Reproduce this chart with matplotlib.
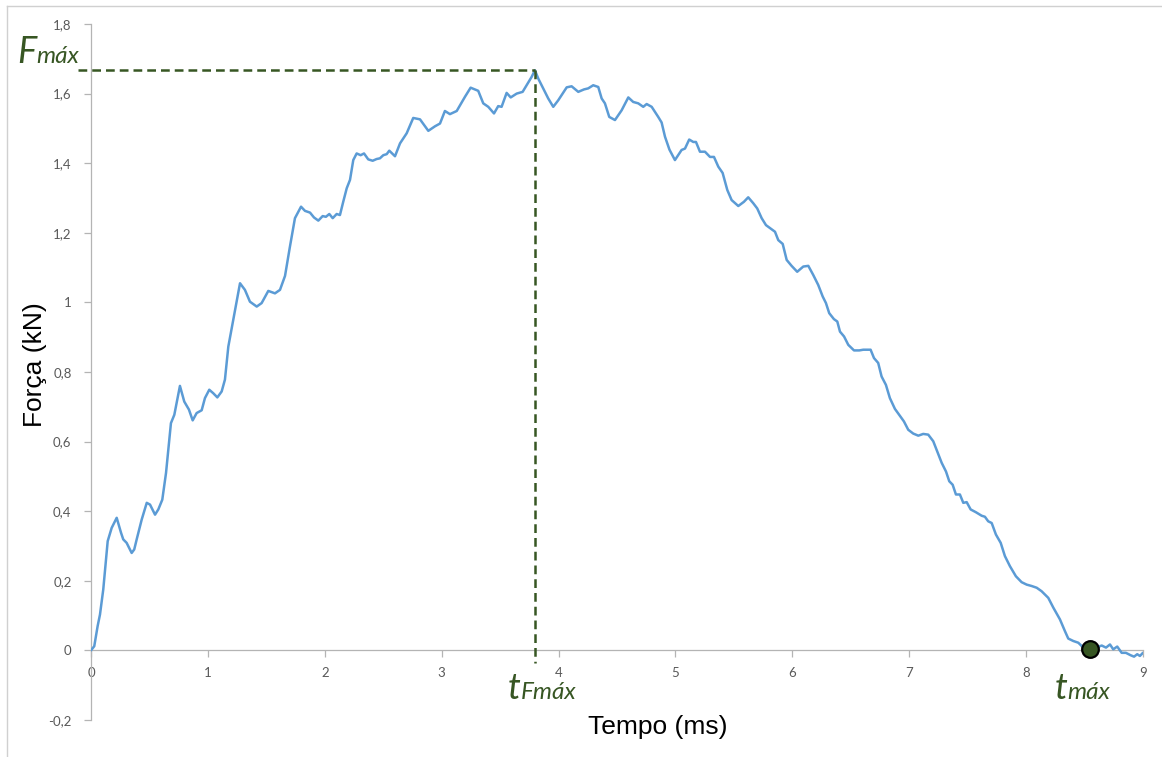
import matplotlib.pyplot as plt
from matplotlib.lines import Line2D
import numpy as np

# curva força x tempo
tempo = [0.000, 0.028, 0.057, 0.077, 0.105, 0.143, 0.177, 0.220, 0.257, 0.276,
         0.305, 0.348, 0.370, 0.391, 0.434, 0.477, 0.505, 0.548, 0.576, 0.610,
         0.642, 0.684, 0.713, 0.761, 0.798, 0.838, 0.870, 0.904, 0.947, 0.975,
         1.012, 1.046, 1.081, 1.118, 1.146, 1.175, 1.217, 1.275, 1.317, 1.360,
         1.418, 1.460, 1.517, 1.574, 1.617, 1.660, 1.702, 1.745, 1.797, 1.831,
         1.874, 1.908, 1.945, 1.982, 2.010, 2.039, 2.068, 2.102, 2.130, 2.158,
         2.188, 2.216, 2.244, 2.273, 2.307, 2.336, 2.372, 2.410, 2.444, 2.472,
         2.501, 2.530, 2.552, 2.601, 2.644, 2.701, 2.757, 2.815, 2.886, 2.943,
         2.986, 3.028, 3.071, 3.129, 3.200, 3.248, 3.313, 3.356, 3.399, 3.448,
         3.484, 3.513, 3.556, 3.591, 3.642, 3.693, 3.727, 3.770, 3.798, 3.827,
         3.869, 3.912, 3.955, 3.998, 4.070, 4.112, 4.169, 4.218, 4.254, 4.297,
         4.340, 4.369, 4.397, 4.434, 4.483, 4.540, 4.597, 4.639, 4.682, 4.725,
         4.754, 4.797, 4.853, 4.882, 4.911, 4.949, 4.996, 5.053, 5.082, 5.118,
         5.153, 5.176, 5.210, 5.253, 5.296, 5.330, 5.367, 5.404, 5.444, 5.481,
         5.538, 5.586, 5.623, 5.666, 5.700, 5.738, 5.775, 5.823, 5.852, 5.880,
         5.918, 5.952, 5.994, 6.042, 6.094, 6.137, 6.179, 6.222, 6.260, 6.288,
         6.316, 6.356, 6.385, 6.408, 6.443, 6.479, 6.528, 6.573, 6.607, 6.670,
         6.699, 6.735, 6.764, 6.801, 6.835, 6.878, 6.921, 6.955, 6.992, 7.035,
         7.078, 7.120, 7.163, 7.206, 7.240, 7.278, 7.315, 7.343, 7.372, 7.400,
         7.434, 7.463, 7.492, 7.526, 7.571, 7.620, 7.648, 7.676, 7.706, 7.742,
         7.783, 7.819, 7.862, 7.913, 7.962, 8.005, 8.048, 8.091, 8.133, 8.190,
         8.233, 8.290, 8.333, 8.361, 8.404, 8.447, 8.490, 8.547, 8.604, 8.647,
         8.684, 8.718, 8.746, 8.780, 8.818, 8.854, 8.895, 8.924, 8.951, 8.974,
         9.000]
forca = [0.000, 0.012, 0.070, 0.103, 0.175, 0.314, 0.352, 0.381, 0.338, 0.319,
         0.309, 0.280, 0.290, 0.319, 0.376, 0.424, 0.419, 0.390, 0.405, 0.433,
         0.510, 0.653, 0.677, 0.760, 0.715, 0.692, 0.661, 0.682, 0.690, 0.725,
         0.749, 0.739, 0.727, 0.744, 0.778, 0.873, 0.950, 1.055, 1.036, 1.002,
         0.988, 0.998, 1.033, 1.026, 1.036, 1.076, 1.160, 1.242, 1.275, 1.263,
         1.258, 1.244, 1.235, 1.248, 1.246, 1.254, 1.242, 1.254, 1.251, 1.289,
         1.328, 1.352, 1.409, 1.428, 1.423, 1.428, 1.411, 1.407, 1.412, 1.414,
         1.423, 1.426, 1.436, 1.420, 1.457, 1.486, 1.530, 1.526, 1.493, 1.506,
         1.514, 1.550, 1.541, 1.550, 1.591, 1.617, 1.608, 1.572, 1.562, 1.543,
         1.564, 1.562, 1.602, 1.589, 1.600, 1.605, 1.624, 1.648, 1.667, 1.643,
         1.615, 1.586, 1.562, 1.581, 1.618, 1.621, 1.605, 1.612, 1.615, 1.624,
         1.619, 1.586, 1.572, 1.533, 1.524, 1.552, 1.589, 1.576, 1.572, 1.562,
         1.570, 1.562, 1.533, 1.517, 1.476, 1.439, 1.409, 1.438, 1.442, 1.468,
         1.461, 1.461, 1.433, 1.433, 1.418, 1.418, 1.390, 1.372, 1.323, 1.294,
         1.277, 1.289, 1.302, 1.285, 1.270, 1.242, 1.222, 1.210, 1.203, 1.179,
         1.168, 1.122, 1.105, 1.088, 1.103, 1.105, 1.079, 1.050, 1.017, 0.998,
         0.969, 0.952, 0.945, 0.916, 0.902, 0.878, 0.862, 0.862, 0.864, 0.864,
         0.840, 0.826, 0.787, 0.763, 0.725, 0.694, 0.674, 0.658, 0.634, 0.623,
         0.617, 0.622, 0.620, 0.601, 0.572, 0.539, 0.514, 0.486, 0.476, 0.448,
         0.448, 0.424, 0.426, 0.405, 0.397, 0.387, 0.384, 0.371, 0.366, 0.333,
         0.309, 0.271, 0.242, 0.213, 0.196, 0.189, 0.185, 0.180, 0.170, 0.151,
         0.123, 0.089, 0.055, 0.034, 0.027, 0.022, 0.008, 0.003, 0.008, 0.014,
         0.008, 0.017, 0.003, 0.011, -0.007, -0.007, -0.014, -0.018, -0.011, -0.016,
         -0.007]
t_max = 8.547

x_ticks = [0, 1, 2, 3, 4, 5, 6, 7, 8, 9]
y_ticks = [-0.2, 0, 0.2, 0.4, 0.6, 0.8, 1.0, 1.2, 1.4, 1.6, 1.8]
y_labels = ['-0,2', '0', '0,2', '0,4', '0,6', '0,8', '1', '1,2', '1,4', '1,6', '1,8']

verde = '#375623'
azul = '#5b9bd5'
cinza = '#595959'
eixo = '#b4b4b4'

fig = plt.figure(figsize=(11.62, 7.57), dpi=100)
ax = fig.add_axes([0.0783, 0.0489, 0.9053, 0.9194])
ax.set_xlim(0, 9)
ax.set_ylim(-0.2, 1.8)

ax.plot(tempo, forca, color=azul, lw=1.8, zorder=3,
        solid_joinstyle='round', solid_capstyle='round')

# pico da curva
i_pico = int(np.argmax(forca))
t_pico, f_pico = tempo[i_pico], forca[i_pico]
ax.plot([-0.11, t_pico], [f_pico, f_pico], color=verde, lw=1.8, dashes=(3.5, 2.0),
        clip_on=False, zorder=4)
ax.plot([t_pico, t_pico], [f_pico, -0.035], color=verde, lw=1.8, dashes=(3.5, 2.0),
        clip_on=False, zorder=4)

# tempo máximo
ax.plot(t_max, np.interp(t_max, tempo, forca), 'o', ms=12, mfc=verde, mec='black',
        mew=1.6, zorder=5, clip_on=False)

# eixos
ax.spines['top'].set_visible(False)
ax.spines['right'].set_visible(False)
ax.spines['bottom'].set_position(('data', 0))
ax.spines['bottom'].set_color(eixo)
ax.spines['left'].set_color(eixo)
ax.spines['bottom'].set_linewidth(0.9)
ax.spines['left'].set_linewidth(0.9)
ax.set_xticks(x_ticks)
ax.set_yticks(y_ticks)
ax.set_yticklabels(y_labels)
ax.tick_params(axis='both', colors=eixo, labelcolor=cinza, labelsize=9.5,
               length=5, width=0.9, direction='out')
ax.tick_params(axis='x', pad=7)
ax.tick_params(axis='y', pad=9)
for lb in ax.get_xticklabels() + ax.get_yticklabels():
    lb.set_family('Lato')

fig.text(0.5663, 0.040, 'Tempo (ms)', fontsize=19, family='Liberation Sans',
         ha='center', va='center')
fig.text(0.030, 0.518, 'Força (kN)', fontsize=19, family='Liberation Sans',
         ha='center', va='center', rotation=90)

# rótulos em verde
fig.canvas.draw()


def rotulo(x, y, grande, pequeno):
    t1 = ax.text(x, y, grande, fontsize=26, style='italic', family='Lato',
                 color=verde, ha='left', va='baseline', clip_on=False)
    fig.canvas.draw()
    w = t1.get_window_extent().width
    ax.annotate(pequeno, (x, y), xytext=(w, 0), textcoords='offset pixels',
                fontsize=17.5, style='italic', family='Lato', color=verde,
                ha='left', va='baseline', annotation_clip=False)


rotulo(-0.633, f_pico + 0.02, 'F', 'máx')
rotulo(t_pico - 0.23, -0.141, 't', 'Fmáx')
rotulo(t_max - 0.30, -0.141, 't', 'máx')

# moldura
fig.add_artist(Line2D([7 / 1162, 7 / 1162], [0, 1 - 6 / 757], transform=fig.transFigure,
                      color='#d0d0d0', lw=1))
fig.add_artist(Line2D([7 / 1162, 1], [1 - 6 / 757, 1 - 6 / 757], transform=fig.transFigure,
                      color='#d0d0d0', lw=1))

fig.savefig('out.png', dpi=100)
